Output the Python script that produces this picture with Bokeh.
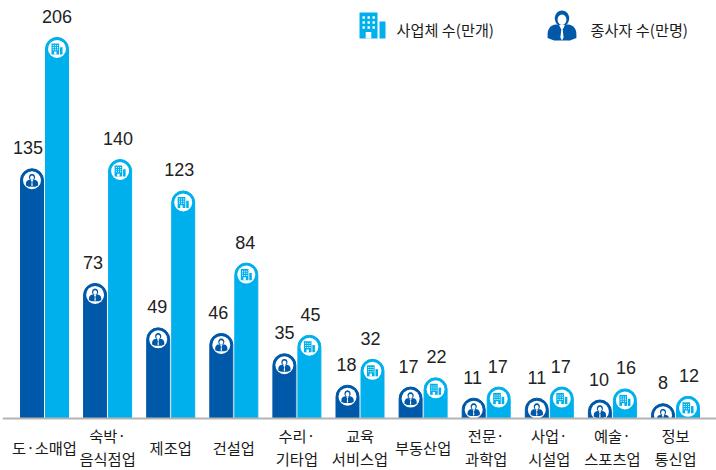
import numpy as np
from bokeh.plotting import figure
from bokeh.models import ColumnDataSource, Range1d, Span
from bokeh.core.properties import value
from bokeh.transform import dodge
from bokeh.embed import file_html
from bokeh.resources import INLINE

categories = ["도·소매업", "숙박·\n음식점업", "제조업", "건설업", "수리·\n기타업", "교육\n서비스업",
              "부동산업", "전문·\n과학업", "사업·\n시설업", "예술·\n스포츠업", "정보\n통신업"]
workers = [135, 73, 49, 46, 35, 18, 17, 11, 11, 10, 8]
firms = [206, 140, 123, 84, 45, 32, 22, 17, 17, 16, 12]
worker_nudge = [-4, -2, -1, -3, 0, -1, -2, -1, 0, -1, 0]
firm_nudge = [0, -2, -4, -1, 1, -2, 1, -1, -1, 1, 1]

DARK = "#0058A8"
LIGHT = "#00B0EC"
KR = "Noto Sans CJK KR"
NUM = "Liberation Sans"
W, H = 716, 470
BASE_Y = 418          # canvas px of the baseline
GROUP = 63.1          # px per category
FIRST = 44.0          # px of first category centre
LEFT, RIGHT = 2, 716  # axis line extent, px
PY = 1.85             # px per value unit
PX = GROUP            # px per x unit

x_start = -(FIRST - LEFT) / GROUP
x_end = x_start + (RIGHT - LEFT) / GROUP
y_start = -(H - BASE_Y) / PY
y_end = BASE_Y / PY

p = figure(width=W, height=H, output_backend="svg", toolbar_location=None,
           x_range=Range1d(x_start, x_end), y_range=Range1d(y_start, y_end),
           margin=(0, 0, 0, 0), tools="", x_axis_type=None, y_axis_type=None,
           min_border_left=LEFT, min_border_right=W - RIGHT, min_border_top=0,
           min_border_bottom=0, outline_line_color=None)
p.grid.visible = False
p.background_fill_color = None
p.border_fill_color = "white"

idx = list(range(len(categories)))
DODGE = 12.5 / GROUP
BAR_W = 23 / GROUP
src = ColumnDataSource(dict(x=idx, workers=workers, firms=firms))
radius = (12, 12, 0, 0)
p.vbar(x=dodge("x", -DODGE), top="workers", bottom=0, width=BAR_W, color=DARK,
       source=src, border_radius=radius)
p.vbar(x=dodge("x", DODGE), top="firms", bottom=0, width=BAR_W, color=LIGHT,
       source=src, border_radius=radius)

BUB = 11.5 / PY
p.scatter([i - DODGE for i in idx], [v - BUB for v in workers], marker="circle", size=18,
          fill_color="white", line_color=None)
p.scatter([i + DODGE for i in idx], [v - BUB for v in firms], marker="circle", size=18,
          fill_color="white", line_color=None)


def ell(cx, cy, rx, ry, n=28):
    t = np.linspace(0, 2 * np.pi, n, endpoint=False)
    return cx + rx * np.cos(t), cy + ry * np.sin(t)


def person(s):
    """Icon outline as px offsets (y up); returns coloured parts and white parts."""
    parts, whites = [], []
    parts.append(ell(0, 3.6, 3.6, 3.9))
    t = np.linspace(np.pi, np.pi / 2, 8)
    lx = -3.0 + 4.2 * np.cos(t)
    ly = -4.2 + 4.7 * np.sin(t)
    bx = np.r_[lx, -lx[::-1], 7.2, 7.2 * 0.55, -7.2 * 0.55, -7.2]
    by = np.r_[ly, ly[::-1], -6.2, -7.5, -7.5, -6.2]
    parts.append((bx, by))
    whites.append(ell(0, 2.9, 2.2, 2.6))
    whites.append((np.array([-1.5, 1.5, 0.35, 0.8, 0, -0.8, -0.35]),
                   np.array([0.2, 0.2, -2, -6, -7.5, -6, -2])))
    return ([(a * s, b * s) for a, b in parts], [(a * s, b * s) for a, b in whites])


def building(s):
    parts = [(np.array([-6.5, 2.5, 2.5, -6.5]), np.array([6.5, 6.5, -6.5, -6.5])),
             (np.array([3.5, 6.5, 6.5, 3.5]), np.array([2, 2, -6.5, -6.5]))]
    whites = [(np.array([-3.4, -0.6, -0.6, -3.4]), np.array([-3.2, -3.2, -6.5, -6.5]))]
    for wx in (-5, -2.5, 0):
        for wy in (4.6, 2.1, -0.4):
            whites.append((np.array([wx, wx + 1.2, wx + 1.2, wx]),
                           np.array([wy, wy, wy - 1.2, wy - 1.2])))
    return ([(a * s, b * s) for a, b in parts], [(a * s, b * s) for a, b in whites])


dark_polys, white_polys, light_polys, lwhite_polys = [[], []], [[], []], [[], []], [[], []]


def add(store, polys, ox, oy):
    for q in polys:
        store[0].append(list(ox + np.asarray(q[0]) / PX))
        store[1].append(list(oy + np.asarray(q[1]) / PY))


for i in idx:
    a, b = person(0.85)
    add(dark_polys, a, i - DODGE, workers[i] - BUB)
    add(white_polys, b, i - DODGE, workers[i] - BUB)
    a, b = building(0.85)
    add(light_polys, a, i + DODGE, firms[i] - BUB)
    add(lwhite_polys, b, i + DODGE, firms[i] - BUB)


def px2x(px):
    return x_start + (px - LEFT) / GROUP


def px2y(py):
    return (BASE_Y - py) / PY


a, b = building(2.0)
add(light_polys, a, px2x(372), px2y(25))
add(lwhite_polys, b, px2x(372), px2y(25))
a, b = person(2.0)
add(dark_polys, a, px2x(561.5), px2y(25))
add(white_polys, b, px2x(561.5), px2y(25))

p.patches(dark_polys[0], dark_polys[1], fill_color=DARK, line_color=None)
p.patches(light_polys[0], light_polys[1], fill_color=LIGHT, line_color=None)
p.patches(white_polys[0], white_polys[1], fill_color="white", line_color=None)
p.patches(lwhite_polys[0], lwhite_polys[1], fill_color="white", line_color=None)

# mask below the baseline, so that bubbles stop at the axis line
p.quad(left=x_start, right=x_end, bottom=y_start, top=0, fill_color="white", line_color=None)
p.add_layout(Span(location=0, dimension="width", line_color="#b4b4b4", line_width=2))

# value labels
lx = [i - DODGE + n / GROUP for i, n in zip(idx, worker_nudge)] + [i + DODGE + n / GROUP for i, n in zip(idx, firm_nudge)]
ly = workers + firms
lt = [str(v) for v in workers + firms]
vsrc = ColumnDataSource(dict(x=lx, y=ly, t=lt))
p.text("x", "y", text="t", source=vsrc, text_align="center", text_baseline="alphabetic",
       y_offset=-21, text_font=value(NUM), text_font_size="18px", text_color="#222222")

# category labels
cx, cy, ct = [], [], []
for i, c in enumerate(categories):
    parts = c.split("\n")
    offs = [28] if len(parts) == 1 else [16.5, 39]
    for t, o in zip(parts, offs):
        cx.append(i); cy.append(-o / PY); ct.append(t)
p.text(cx, cy, text=ct, text_align="center", text_baseline="middle",
       text_font=value(KR), text_font_size="15.3px", text_color="#1a1a1a")

# legend text
p.text([px2x(396), px2x(590)], [px2y(28)] * 2, text=["사업체 수(만개)", "종사자 수(만명)"],
       text_align="left", text_baseline="middle", text_font=value(KR),
       text_font_size="15.2px", text_color="#1a1a1a")

open("out.html", "w").write(file_html(p, INLINE))
